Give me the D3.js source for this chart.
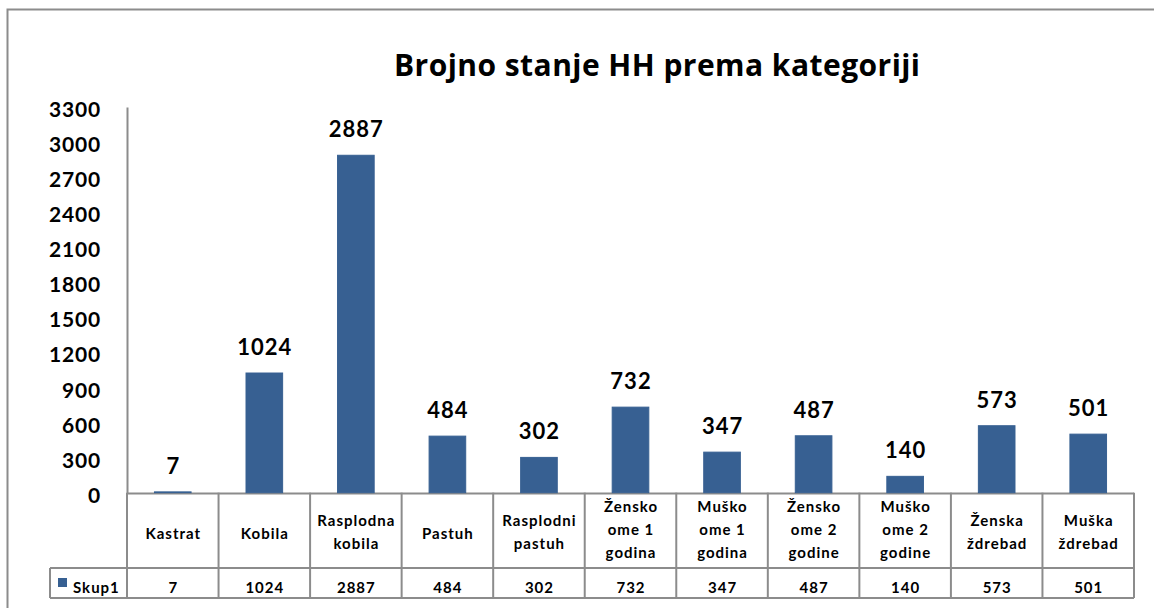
<!DOCTYPE html>
<html>
<head>
<meta charset="utf-8">
<script src="https://cdn.jsdelivr.net/npm/d3@7"></script>
<style>
  html, body { margin: 0; padding: 0; background: #fff; }
  svg { display: block; font-family: Lato, "Open Sans", sans-serif; }
</style>
</head>
<body>
<svg id="chart" width="1154" height="608"></svg>
<script>
const title = "Brojno stanje HH prema kategoriji";
const seriesName = "Skup1";
const categories = [
  ["Kastrat"],
  ["Kobila"],
  ["Rasplodna", "kobila"],
  ["Pastuh"],
  ["Rasplodni", "pastuh"],
  ["Žensko", "ome 1", "godina"],
  ["Muško", "ome 1", "godina"],
  ["Žensko", "ome 2", "godine"],
  ["Muško", "ome 2", "godine"],
  ["Ženska", "ždrebad"],
  ["Muška", "ždrebad"]
];
const values = [7, 1024, 2887, 484, 302, 732, 347, 487, 140, 573, 501];
const yTicks = [0, 300, 600, 900, 1200, 1500, 1800, 2100, 2400, 2700, 3000, 3300];

(function () {
const svg = d3.select("#chart");
const barColor = "#376092";
const lineColor = "#8c8c8c";

const plotLeft = 127, plotRight = 1134, plotTop = 107, base = 492.7;
const headerBottom = 568, tableBottom = 598, legendLeft = 50;

// outer frame
svg.append("path")
  .attr("d", "M7.5,608 L7.5,9.5 L1154,9.5")
  .attr("fill", "none").attr("stroke", "#8c8c8c").attr("stroke-width", 2);

// title
svg.append("text")
  .attr("x", 394).attr("y", 76)
  .attr("textLength", 526).attr("lengthAdjust", "spacing")
  .attr("font-family", "'Open Sans', Lato, sans-serif")
  .attr("font-size", 30).attr("font-weight", "bold").attr("fill", "#000")
  .text(title);

const keys = categories.map(c => c.join(" "));
const x = d3.scaleBand().domain(keys).range([plotLeft, plotRight]).paddingInner(0).paddingOuter(0);
const y = d3.scaleLinear().domain([0, 3300]).range([base, plotTop]);

// y axis
const yAxis = d3.axisLeft(y).tickValues(yTicks).tickSize(0).tickPadding(26).tickFormat(d3.format("d"));
const ag = svg.append("g").attr("transform", `translate(${plotLeft},0)`).call(yAxis);
ag.select(".domain").attr("stroke", lineColor).attr("stroke-width", 2);
ag.selectAll(".tick text")
  .attr("font-family", "Lato, sans-serif")
  .attr("font-size", 21).attr("font-weight", "bold").attr("fill", "#000")
  .attr("letter-spacing", 0.8)
  .attr("dy", "0").attr("y", 9.5);

// data table lines
const tg = svg.append("g").attr("stroke", lineColor).attr("stroke-width", 2).attr("fill", "none");
tg.append("line").attr("x1", plotLeft).attr("x2", plotRight).attr("y1", base + 0.8).attr("y2", base + 0.8);
tg.append("line").attr("x1", legendLeft).attr("x2", plotRight).attr("y1", headerBottom).attr("y2", headerBottom);
tg.append("line").attr("x1", legendLeft).attr("x2", plotRight).attr("y1", tableBottom).attr("y2", tableBottom);
tg.append("line").attr("x1", legendLeft).attr("x2", legendLeft).attr("y1", headerBottom).attr("y2", tableBottom);
keys.concat(["__end"]).forEach((k, i) => {
  const xx = i < keys.length ? x(k) : plotRight;
  tg.append("line").attr("x1", xx).attr("x2", xx).attr("y1", base).attr("y2", tableBottom);
});

// bars
const bw = x.bandwidth() * 0.4;
svg.append("g").selectAll("rect").data(values).join("rect")
  .attr("x", (d, i) => x(keys[i]) + (x.bandwidth() - bw) / 2)
  .attr("y", d => y(d))
  .attr("width", bw)
  .attr("height", d => base - y(d))
  .attr("fill", barColor)
  .attr("stroke", barColor).attr("stroke-width", 1);

// value labels
svg.append("g").selectAll("text").data(values).join("text")
  .attr("x", (d, i) => x(keys[i]) + x.bandwidth() / 2 + 0.5)
  .attr("y", d => y(d) - 18)
  .attr("text-anchor", "middle")
  .attr("font-size", 22).attr("font-weight", "bold").attr("fill", "#000")
  .attr("letter-spacing", 1)
  .text(d => d);

// category labels
const lh = 23;
categories.forEach((lines, i) => {
  const cx = x(keys[i]) + x.bandwidth() / 2 + 0.5;
  const t = svg.append("text")
    .attr("text-anchor", "middle")
    .attr("font-size", 15).attr("font-weight", "bold").attr("fill", "#000")
    .attr("letter-spacing", 1);
  const meanBase = lines.length === 1 ? 539 : (lines.length === 2 ? 537 : 535);
  const startY = meanBase - (lines.length - 1) * lh / 2;
  lines.forEach((ln, j) => {
    t.append("tspan").attr("x", cx).attr("y", startY + j * lh).text(ln);
  });
});

// table values
svg.append("g").selectAll("text").data(values).join("text")
  .attr("x", (d, i) => x(keys[i]) + x.bandwidth() / 2 + 0.5)
  .attr("y", 593)
  .attr("text-anchor", "middle")
  .attr("font-size", 15).attr("font-weight", "bold").attr("fill", "#000")
  .attr("letter-spacing", 1)
  .text(d => d);

// legend key
svg.append("rect").attr("x", 58).attr("y", 578).attr("width", 9).attr("height", 9).attr("fill", barColor);
svg.append("text").attr("x", 73).attr("y", 593)
  .attr("font-size", 15).attr("font-weight", "bold").attr("fill", "#000")
  .attr("letter-spacing", 1)
  .text(seriesName);
})();
</script>
</body>
</html>
